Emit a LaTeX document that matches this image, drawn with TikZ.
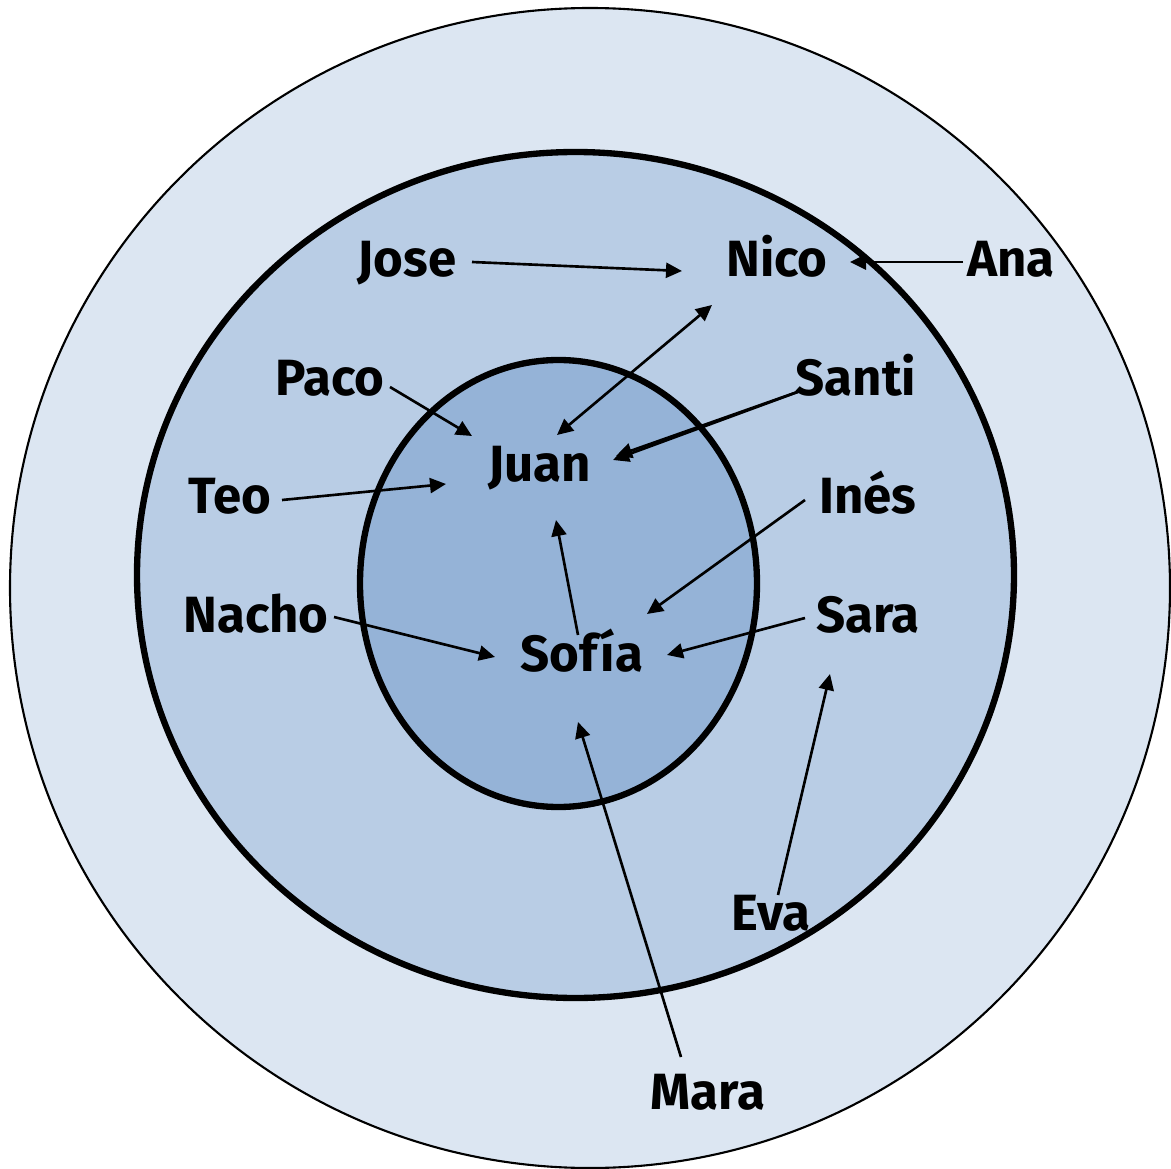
\documentclass[tikz,border=0pt]{standalone}
\usepackage{fontspec}
\setmainfont{Fira Sans}
\usetikzlibrary{arrows.meta}
\definecolor{azulclaro}{HTML}{DCE6F2}
\definecolor{azulmedio}{HTML}{B9CDE5}
\definecolor{azuloscuro}{HTML}{95B3D7}
\tikzset{
	persona/.style={anchor=center, inner sep=0pt, text height=0.69em, text depth=0pt, font=\fontsize{14.5}{16}\selectfont\bfseries},
	punta/.tip={Triangle[length=1.6mm, width=1.5mm]},
	flecha/.style={line width=0.75pt, -punta}
}
\begin{document}
\begin{tikzpicture}
	\useasboundingbox (0, 0) rectangle (11.71, -11.69);
	% Rings:
	\draw[fill=azulclaro, line width=0.6pt] (5.90, -5.88) circle (5.80);
	\draw[fill=azulmedio, line width=1.8pt] (5.755, -5.75) ellipse (4.385 and 4.23);
	\draw[fill=azuloscuro, line width=1.8pt] (5.585, -5.835) ellipse (1.985 and 2.235);
	% Names:
	\node[persona] (jose) at (4.07, -2.64) {Jose};
	\node[persona] (nico) at (7.77, -2.64) {Nico};
	\node[persona] (ana) at (10.11, -2.64) {Ana};
	\node[persona] (paco) at (3.30, -3.83) {Paco};
	\node[persona] (santi) at (8.56, -3.83) {Santi};
	\node[persona] (juan) at (5.40, -4.69) {Juan};
	\node[persona] (teo) at (2.30, -5.01) {Teo};
	\node[persona] (ines) at (8.68, -5.01) {Inés};
	\node[persona] (nacho) at (2.56, -6.20) {Nacho};
	\node[persona] (sara) at (8.68, -6.20) {Sara};
	\node[persona] (sofia) at (5.82, -6.59) {Sofía};
	\node[persona] (eva) at (7.71, -9.18) {Eva};
	\node[persona] (mara) at (7.08, -10.97) {Mara};
	% Arrows:
	\draw[flecha] ([shift={(0.65, 0.02)}]jose.center) -- ([shift={(-0.95, -0.07)}]nico.center);
	\draw[flecha] ([shift={(-0.48, 0.02)}]ana.center) -- ([shift={(0.73, 0.02)}]nico.center);
	\draw[flecha, punta-punta] ([shift={(-0.65, -0.41)}]nico.center) -- ([shift={(0.17, 0.34)}]juan.center);
	\draw[flecha] ([shift={(0.60, -0.04)}]paco.center) -- ([shift={(-0.68, 0.33)}]juan.center);
	\draw[flecha] ([shift={(-0.53, -0.07)}]santi.center) -- ([shift={(0.73, 0.09)}]juan.center);
	\draw[flecha] ([shift={(-0.53, -0.07)}]santi.center) -- ([shift={(0.76, 0.13)}]juan.center);
	\draw[flecha] ([shift={(0.52, 0.01)}]teo.center) -- ([shift={(-0.94, -0.15)}]juan.center);
	\draw[flecha] ([shift={(-0.04, 0.24)}]sofia.center) -- ([shift={(0.16, -0.51)}]juan.center);
	\draw[flecha] ([shift={(-0.63, 0.01)}]ines.center) -- ([shift={(0.65, 0.45)}]sofia.center);
	\draw[flecha] ([shift={(0.78, 0.03)}]nacho.center) -- ([shift={(-0.87, 0.02)}]sofia.center);
	\draw[flecha] ([shift={(-0.63, 0.02)}]sara.center) -- ([shift={(0.85, 0.04)}]sofia.center);
	\draw[flecha] ([shift={(-0.27, 0.40)}]mara.center) -- ([shift={(-0.04, -0.63)}]sofia.center);
	\draw[flecha] ([shift={(0.07, 0.23)}]eva.center) -- ([shift={(-0.38, -0.54)}]sara.center);
\end{tikzpicture}
\end{document}
